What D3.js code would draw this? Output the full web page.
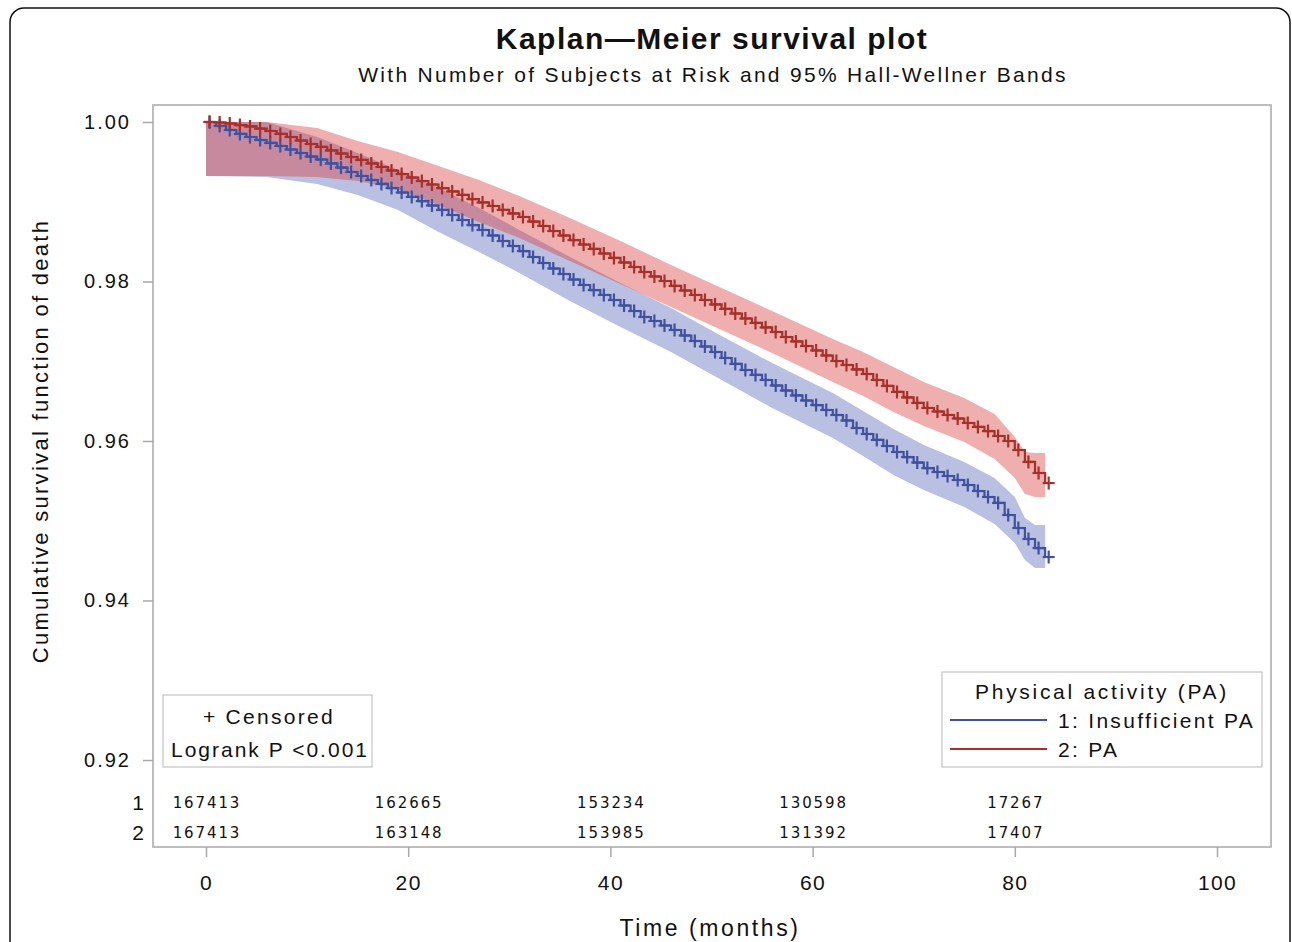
<!DOCTYPE html>
<html>
<head>
<meta charset="utf-8">
<script src="https://cdn.jsdelivr.net/npm/d3@7"></script>
<style>
  html, body { margin: 0; padding: 0; background: #ffffff; }
  svg { display: block; font-family: "Liberation Sans", Arial, sans-serif; }
</style>
</head>
<body>
<svg id="chart" width="1292" height="942"></svg>
<script>
// ---------------- DATA ----------------
const chartTitle = "Kaplan\u2014Meier survival plot";
const chartSubtitle = "With Number of Subjects at Risk and 95% Hall-Wellner Bands";
const yAxisTitle = "Cumulative survival function of death";
const xAxisTitle = "Time (months)";
const legendTitle = "Physical activity (PA)";
const groupLabels = ["1: Insufficient PA", "2: PA"];
const groupIds = ["1", "2"];
const yTicks = [0.92, 0.94, 0.96, 0.98, 1.00];
const xTicks = [0, 20, 40, 60, 80, 100];

const months = [0,1,2,3,4,5,6,7,8,9,10,11,12,13,14,15,16,17,18,19,20,21,22,23,24,25,26,27,28,29,
  30,31,32,33,34,35,36,37,38,39,40,41,42,43,44,45,46,47,48,49,50,51,52,53,54,55,56,57,58,59,
  60,61,62,63,64,65,66,67,68,69,70,71,72,73,74,75,76,77,78,79,80,81,82,83];

// Group 1: Insufficient PA (blue)
const survInsufficient = [1.00000,0.99950,0.99900,0.99850,0.99812,0.99774,0.99737,0.99699,0.99655,0.99611,
  0.99567,0.99530,0.99480,0.99429,0.99373,0.99323,0.99273,0.99223,0.99172,0.99116,
  0.99060,0.99009,0.98953,0.98897,0.98834,0.98771,0.98708,0.98646,0.98577,0.98508,
  0.98445,0.98382,0.98307,0.98232,0.98163,0.98094,0.98025,0.97956,0.97893,0.97831,
  0.97768,0.97699,0.97630,0.97555,0.97505,0.97448,0.97392,0.97323,0.97254,0.97185,
  0.97116,0.97041,0.96966,0.96890,0.96828,0.96765,0.96696,0.96633,0.96571,0.96508,
  0.96451,0.96389,0.96326,0.96257,0.96163,0.96088,0.96013,0.95937,0.95862,0.95799,
  0.95730,0.95661,0.95611,0.95561,0.95511,0.95448,0.95373,0.95298,0.95223,0.95072,
  0.94909,0.94771,0.94658,0.94545];

// Group 2: PA (red)
const survPA = [1.00000,0.99994,0.99981,0.99962,0.99944,0.99918,0.99887,0.99850,0.99812,0.99768,
  0.99724,0.99687,0.99643,0.99605,0.99561,0.99524,0.99480,0.99436,0.99392,0.99348,
  0.99304,0.99260,0.99216,0.99172,0.99129,0.99085,0.99034,0.98991,0.98947,0.98897,
  0.98853,0.98809,0.98752,0.98696,0.98633,0.98577,0.98520,0.98464,0.98408,0.98351,
  0.98295,0.98238,0.98182,0.98119,0.98063,0.98006,0.97944,0.97887,0.97831,0.97768,
  0.97712,0.97656,0.97599,0.97536,0.97480,0.97424,0.97367,0.97304,0.97248,0.97191,
  0.97135,0.97072,0.97003,0.96953,0.96897,0.96840,0.96765,0.96690,0.96615,0.96546,
  0.96477,0.96414,0.96370,0.96326,0.96282,0.96226,0.96176,0.96125,0.96063,0.96000,
  0.95887,0.95737,0.95599,0.95473];

// Hall-Wellner band bounds
const bandMonths = [0,6,11,15,19,23,27,31,36,41,46,51,56,62,65,68,71,75,78,80,81,82,83];
const bandInsufficientUpper = [1.00000,1.00000,0.99812,0.99611,0.99398,0.99172,0.98922,0.98646,0.98307,0.97981,
  0.97668,0.97317,0.96978,0.96602,0.96377,0.96151,0.95950,0.95737,0.95536,0.95298,0.95035,0.94947,0.94947];
const bandInsufficientLower = [0.99323,0.99310,0.99223,0.99085,0.98897,0.98621,0.98370,0.98107,0.97756,0.97430,
  0.97116,0.96765,0.96414,0.96038,0.95812,0.95574,0.95386,0.95173,0.94959,0.94721,0.94508,0.94408,0.94408];
const bandPAUpper = [1.00000,1.00000,0.99925,0.99762,0.99624,0.99448,0.99273,0.99072,0.98796,0.98508,
  0.98207,0.97919,0.97630,0.97279,0.97116,0.96928,0.96740,0.96539,0.96339,0.96050,0.95862,0.95850,0.95850];
const bandPALower = [0.99323,0.99323,0.99310,0.99260,0.99160,0.98959,0.98746,0.98545,0.98257,0.97969,
  0.97680,0.97392,0.97103,0.96740,0.96564,0.96364,0.96188,0.95988,0.95775,0.95536,0.95336,0.95298,0.95298];

// Number at risk
const riskMonths = [0, 20, 40, 60, 80];
const riskInsufficient = [167413, 162665, 153234, 130598, 17267];
const riskPA = [167413, 163148, 153985, 131392, 17407];

const censorLabel = "+ Censored";
const logrankLabel = "Logrank P <0.001";

// ---------------- STYLE / LAYOUT ----------------
const blueLine = "#3f51a0";
const redLine = "#a8302a";
const blueBand = "#5061b4";
const redBand = "#d93737";
const bandOpacity = 0.4;
const frame = { left: 153, top: 105, right: 1271, bottom: 847 };

const svg = d3.select("#chart");

// outer rounded border
svg.append("rect")
  .attr("x", 10).attr("y", 8).attr("width", 1280).attr("height", 970)
  .attr("rx", 14).attr("ry", 14)
  .attr("fill", "none").attr("stroke", "#111").attr("stroke-width", 1.5);

const x = d3.scaleLinear().domain([0, 100]).range([206, 1217]);
const y = d3.scaleLinear().domain([0.92, 1.00]).range([760, 122]);

// titles
svg.append("text").attr("x", 712).attr("y", 49).attr("text-anchor", "middle")
  .attr("font-size", 30).attr("font-weight", "bold").attr("letter-spacing", 1.5)
  .attr("fill", "#111").text(chartTitle);
svg.append("text").attr("x", 713).attr("y", 82).attr("text-anchor", "middle")
  .attr("font-size", 21).attr("letter-spacing", 2.3)
  .attr("fill", "#111").text(chartSubtitle);

// bands
const clipId = "plotclip";
svg.append("clipPath").attr("id", clipId).append("rect")
  .attr("x", frame.left).attr("y", frame.top)
  .attr("width", frame.right - frame.left).attr("height", frame.bottom - frame.top);

const plot = svg.append("g").attr("clip-path", `url(#${clipId})`);

function bandData(upper, lower) {
  return bandMonths.map((m, i) => ({ t: m, hi: upper[i], lo: lower[i] }));
}
const area = d3.area().x(d => x(d.t)).y0(d => y(d.lo)).y1(d => y(d.hi)).curve(d3.curveLinear);

plot.append("path").datum(bandData(bandInsufficientUpper, bandInsufficientLower))
  .attr("d", area).attr("fill", blueBand).attr("fill-opacity", bandOpacity);
plot.append("path").datum(bandData(bandPAUpper, bandPALower))
  .attr("d", area).attr("fill", redBand).attr("fill-opacity", bandOpacity);

// survival step curves
const stepLine = d3.line().x(d => x(d.t)).y(d => y(d.s)).curve(d3.curveStepAfter);
const series = [
  { vals: survInsufficient, color: blueLine },
  { vals: survPA, color: redLine }
];
series.forEach(sr => {
  const pts = months.map((m, i) => ({ t: m, s: sr.vals[i] }));
  plot.append("path").datum(pts).attr("d", stepLine)
    .attr("fill", "none").attr("stroke", sr.color).attr("stroke-width", 2.2);
  // censor marks
  const g = plot.append("g").attr("stroke", sr.color).attr("stroke-width", 2.2);
  pts.forEach(p => {
    const cx = x(p.t + 0.35), cy = y(p.s);
    g.append("line").attr("x1", cx - 6).attr("x2", cx + 6).attr("y1", cy).attr("y2", cy);
    g.append("line").attr("x1", cx).attr("x2", cx).attr("y1", cy - 6.5).attr("y2", cy + 6.5);
  });
});

// frame
svg.append("rect").attr("x", frame.left).attr("y", frame.top)
  .attr("width", frame.right - frame.left).attr("height", frame.bottom - frame.top)
  .attr("fill", "none").attr("stroke", "#a8a8a8").attr("stroke-width", 1.5);

// Y axis
const yAxis = d3.axisLeft(y).tickValues(yTicks).tickFormat(d3.format(".2f")).tickSize(10).tickPadding(12);
const yg = svg.append("g").attr("transform", `translate(${frame.left},0)`).call(yAxis);
yg.select(".domain").remove();
yg.selectAll(".tick line").attr("stroke", "#a8a8a8").attr("stroke-width", 1.5);
yg.selectAll(".tick text").attr("font-size", 20).attr("letter-spacing", 2)
  .attr("fill", "#111").attr("font-family", "Liberation Sans, Arial, sans-serif");

// X axis
const xAxis = d3.axisBottom(x).tickValues(xTicks).tickFormat(d3.format("d")).tickSize(10).tickPadding(18);
const xg = svg.append("g").attr("transform", `translate(0,${frame.bottom})`).call(xAxis);
xg.select(".domain").remove();
xg.selectAll(".tick line").attr("stroke", "#a8a8a8").attr("stroke-width", 1.5);
xg.selectAll(".tick text").attr("font-size", 21).attr("letter-spacing", 1.4)
  .attr("fill", "#111").attr("font-family", "Liberation Sans, Arial, sans-serif");

// axis titles
svg.append("text").attr("transform", `translate(48,441) rotate(-90)`)
  .attr("text-anchor", "middle").attr("font-size", 22).attr("letter-spacing", 2.3)
  .attr("fill", "#111").text(yAxisTitle);
svg.append("text").attr("x", 710).attr("y", 936).attr("text-anchor", "middle")
  .attr("font-size", 23).attr("letter-spacing", 2.6)
  .attr("fill", "#111").text(xAxisTitle);

// at-risk table
const riskRows = [
  { id: groupIds[0], vals: riskInsufficient, y: 802 },
  { id: groupIds[1], vals: riskPA, y: 832 }
];
riskRows.forEach(r => {
  svg.append("text").attr("x", 138).attr("y", r.y + 8).attr("text-anchor", "middle")
    .attr("font-size", 21).attr("fill", "#111").text(r.id);
  r.vals.forEach((v, i) => {
    svg.append("text").attr("x", x(riskMonths[i]) + 1).attr("y", r.y + 6)
      .attr("text-anchor", "middle").attr("font-size", 15).attr("letter-spacing", 1.9)
      .attr("font-family", "DejaVu Sans, sans-serif")
      .attr("fill", "#111").text(String(v));
  });
});

// censored / logrank box
svg.append("rect").attr("x", 163).attr("y", 695).attr("width", 209).attr("height", 72)
  .attr("fill", "#fff").attr("stroke", "#c4c4c4").attr("stroke-width", 1.2);
svg.append("text").attr("x", 269).attr("y", 724).attr("text-anchor", "middle")
  .attr("font-size", 21).attr("letter-spacing", 2.3).attr("fill", "#111").text(censorLabel);
svg.append("text").attr("x", 270).attr("y", 757).attr("text-anchor", "middle")
  .attr("font-size", 21).attr("letter-spacing", 2.0).attr("fill", "#111").text(logrankLabel);

// legend
svg.append("rect").attr("x", 942).attr("y", 672).attr("width", 320).attr("height", 95)
  .attr("fill", "#fff").attr("stroke", "#c4c4c4").attr("stroke-width", 1.2);
svg.append("text").attr("x", 1102).attr("y", 699).attr("text-anchor", "middle")
  .attr("font-size", 21).attr("letter-spacing", 2.7).attr("fill", "#111").text(legendTitle);
const legendColors = [blueLine, redLine];
groupLabels.forEach((lab, i) => {
  const ly = 720 + i * 29;
  svg.append("line").attr("x1", 950).attr("x2", 1047).attr("y1", ly).attr("y2", ly)
    .attr("stroke", legendColors[i]).attr("stroke-width", 2);
  svg.append("text").attr("x", 1058).attr("y", ly + 8)
    .attr("font-size", 21).attr("letter-spacing", 2.3).attr("fill", "#111").text(lab);
});
</script>
</body>
</html>
